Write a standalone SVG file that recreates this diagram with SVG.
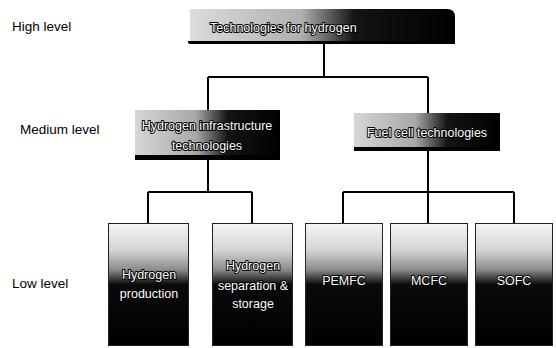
<svg xmlns="http://www.w3.org/2000/svg" width="556" height="348" viewBox="0 0 556 348">
  <defs>
    <linearGradient id="gTop" x1="190" y1="0" x2="455" y2="0" gradientUnits="userSpaceOnUse">
      <stop offset="0" stop-color="#dcdcdc"/>
      <stop offset="0.42" stop-color="#b0b0b0"/>
      <stop offset="0.62" stop-color="#141414"/>
      <stop offset="1" stop-color="#000"/>
    </linearGradient>
    <linearGradient id="gMid" x1="0" y1="0" x2="1" y2="0">
      <stop offset="0" stop-color="#d6d6d6"/>
      <stop offset="0.42" stop-color="#a8a8a8"/>
      <stop offset="0.64" stop-color="#141414"/>
      <stop offset="1" stop-color="#000"/>
    </linearGradient>
    <linearGradient id="gLow" x1="0" y1="0" x2="0" y2="1">
      <stop offset="0" stop-color="#f4f4f4"/>
      <stop offset="0.22" stop-color="#d4d4d4"/>
      <stop offset="0.38" stop-color="#8a8a8a"/>
      <stop offset="0.5" stop-color="#0a0a0a"/>
      <stop offset="1" stop-color="#000"/>
    </linearGradient>
  </defs>
  <style>
    .lvl { font-family: "Liberation Sans", Arial, sans-serif; font-size: 13.5px; fill: #000; }
    .nt { font-family: "Liberation Sans", Arial, sans-serif; font-size: 12.5px; fill: #fff; stroke: #000; stroke-width: 2px; paint-order: stroke; stroke-linejoin: round; }
    .tp { fill: url(#gTop); }
    .md { fill: url(#gMid); }
    .lw { fill: url(#gLow); stroke: #222; stroke-width: 1; }
    .shade { fill: #000; }
    .conn { stroke: #000; stroke-width: 2; fill: none; }
  </style>

  <rect width="556" height="348" fill="#fff"/>

  <!-- level labels -->
  <text class="lvl" x="12" y="31">High level</text>
  <text class="lvl" x="20" y="134">Medium level</text>
  <text class="lvl" x="12" y="288">Low level</text>

  <!-- connectors -->
  <g id="connectors">
    <path class="conn" d="M324 43 V77 M208 77 H428 M208 77 V110 M428 77 V113"/>
    <path class="conn" d="M208 160 V192 M148 192 H252 M148 192 V223 M252 192 V223"/>
    <path class="conn" d="M428 151 V192 M343 192 H514 M343 192 V223 M428 192 V223 M514 192 V223"/>
  </g>

  <!-- top node -->
  <g id="node-top">
    <path class="tp" d="M190 9 H447 Q455 9 455 17 V42 H190 Z"/>
    <path class="shade" d="M188 41 H455 V44 H190 Q188 44 188 42 Z"/>
    <text class="nt" x="210" y="32" font-size="13">Technologies for hydrogen</text>
  </g>

  <!-- medium nodes -->
  <g id="node-h2-infra">
    <rect class="md" x="135" y="110" width="145" height="46"/>
    <rect class="shade" x="135" y="155" width="145" height="5"/>
    <text class="nt" x="207" y="130" text-anchor="middle">Hydrogen infrastructure</text>
    <text class="nt" x="207" y="150" text-anchor="middle">technologies</text>
  </g>
  <g id="node-fuel-cell">
    <rect class="md" x="354" y="113" width="146" height="35"/>
    <rect class="shade" x="354" y="147" width="146" height="4"/>
    <text class="nt" x="427" y="137" text-anchor="middle">Fuel cell technologies</text>
  </g>

  <!-- low nodes -->
  <g id="node-h2-production">
    <rect class="lw" x="108.5" y="223.5" width="80" height="122"/>
    <text class="nt" x="149" y="279" text-anchor="middle">Hydrogen</text>
    <text class="nt" x="149" y="298" text-anchor="middle">production</text>
  </g>
  <g id="node-h2-storage">
    <rect class="lw" x="212.5" y="223.5" width="80" height="122"/>
    <text class="nt" x="253" y="270" text-anchor="middle">Hydrogen</text>
    <text class="nt" x="253" y="290" text-anchor="middle">separation &amp;</text>
    <text class="nt" x="253" y="308" text-anchor="middle">storage</text>
  </g>
  <g id="node-pemfc">
    <rect class="lw" x="305.5" y="223.5" width="77" height="122"/>
    <text class="nt" x="344" y="285" text-anchor="middle">PEMFC</text>
  </g>
  <g id="node-mcfc">
    <rect class="lw" x="390.5" y="223.5" width="77" height="122"/>
    <text class="nt" x="429" y="285" text-anchor="middle">MCFC</text>
  </g>
  <g id="node-sofc">
    <rect class="lw" x="475.5" y="223.5" width="77" height="122"/>
    <text class="nt" x="514" y="285" text-anchor="middle">SOFC</text>
  </g>
</svg>
